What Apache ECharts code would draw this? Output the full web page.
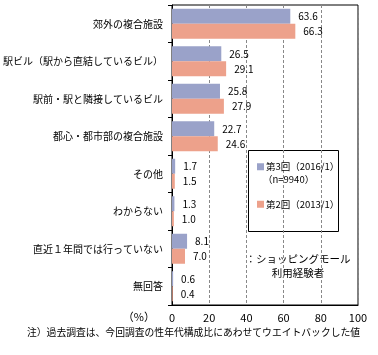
<!DOCTYPE html>
<html><head><meta charset="utf-8">
<script src="https://cdn.jsdelivr.net/npm/echarts@6/dist/echarts.min.js"></script>
<style>html,body{margin:0;padding:0;background:#fff}#c{width:378px;height:355px}</style>
</head><body><div id="c"></div>
<script>
const categories = ["郊外の複合施設","駅ビル（駅から直結しているビル）","駅前・駅と隣接しているビル","都心・都市部の複合施設","その他","わからない","直近１年間では行っていない","無回答"];
const series2016 = [63.6, 26.5, 25.8, 22.7, 1.7, 1.3, 8.1, 0.6];
const series2013 = [66.3, 29.1, 27.9, 24.6, 1.5, 1.0, 7.0, 0.4];
const xTicks = [0, 20, 40, 60, 80, 100];
const FONT = '"Noto Sans CJK JP", "Noto Sans", sans-serif';
const chart = echarts.init(document.getElementById('c'), null, {renderer:'canvas'});
const lbl = {show:true, position:'right', distance:8, color:'#000', fontSize:10, fontFamily:FONT, formatter:p=>p.value.toFixed(1)};
chart.setOption({
  animation:false,
  textStyle:{fontFamily:FONT},
  grid:{left:172, right:20, top:5, bottom:50, show:true, borderColor:'#000', borderWidth:1, containLabel:false},
  xAxis:{type:'value', min:xTicks[0], max:xTicks[xTicks.length-1], interval:20,
    axisLine:{show:true, lineStyle:{color:'#000'}}, axisTick:{show:false},
    axisLabel:{color:'#000', fontSize:11, margin:7, fontFamily:FONT},
    splitLine:{show:true, lineStyle:{color:'#888', type:[3,2], width:1}}},
  yAxis:{type:'category', data:categories, inverse:true,
    axisLine:{show:true, lineStyle:{color:'#000'}},
    axisTick:{show:true, length:4, lineStyle:{color:'#000'}},
    axisLabel:{color:'#000', fontSize:10, margin:9, fontFamily:FONT}},
  legend:{show:true, orient:'vertical', left:252, top:157, itemWidth:7, itemHeight:7, itemGap:28, icon:'rect',
    textStyle:{fontSize:9.5, color:'#000', fontFamily:FONT, padding:[0,0,0,-3]},
    data:['第3回（2016/1）','第2回（2013/1）']},
  series:[
    {name:'第3回（2016/1）', type:'bar', data:series2016, barGap:'0%', barCategoryGap:'20%', itemStyle:{color:'#9aa2c9'}, label:lbl},
    {name:'第2回（2013/1）', type:'bar', data:series2013, itemStyle:{color:'#eda18b'}, label:lbl}
  ],
  graphic:[
    {type:'rect', shape:{x:248.5, y:150.5, width:90, height:81}, style:{fill:null, stroke:'#000', lineWidth:1}, z:0},
    {type:'text', x:263, y:179, style:{text:'（n=9940）', fontSize:9.5, fontFamily:FONT, fill:'#000', verticalAlign:'middle'}},
    {type:'text', x:298, y:259, style:{text:'：ショッピングモール', fontSize:10.5, fontFamily:FONT, fill:'#000', align:'center', verticalAlign:'middle'}},
    {type:'text', x:298, y:273, style:{text:'利用経験者', fontSize:10.5, fontFamily:FONT, fill:'#000', align:'center', verticalAlign:'middle'}},
    {type:'text', x:155, y:317, style:{text:'（%）', fontSize:11, fontFamily:FONT, fill:'#000', align:'right', verticalAlign:'middle'}},
    {type:'text', x:27, y:332, style:{text:'注）過去調査は、今回調査の性年代構成比にあわせてウエイトバックした値', fontSize:9.8, fontFamily:FONT, fill:'#000', verticalAlign:'middle'}}
  ]
});
</script></body></html>
